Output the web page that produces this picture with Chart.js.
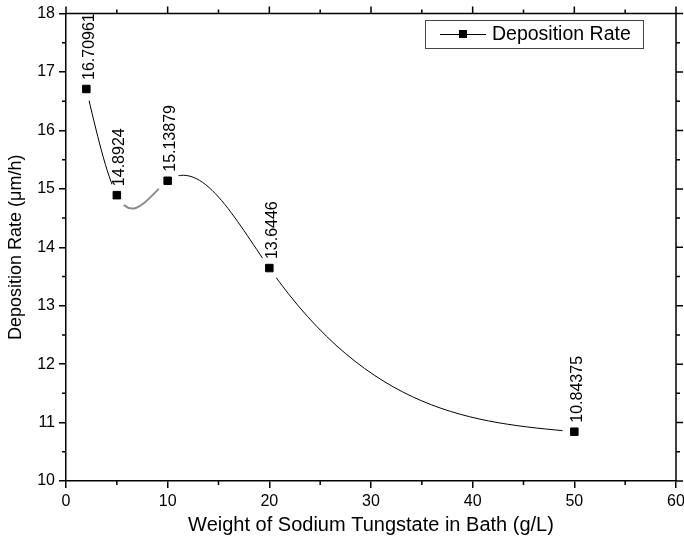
<!DOCTYPE html>
<html lang="en">
  <head>
    <meta charset="UTF-8"/>
    <title>Deposition Rate</title>
    <script src="https://cdn.jsdelivr.net/npm/chart.js@4.4.1/dist/chart.umd.min.js"></script>
    <style>
      html, body { margin:0; padding:0; background:#fff; }
      #wrap { width:684px; height:540px; }
    </style>
  </head>
  <body>
    <div id="wrap"><canvas id="Chart" width="684" height="540"></canvas></div>
    <script>
      // data
      var weights = [2, 5, 10, 20, 50];
      var rates = [16.70961, 14.8924, 15.13879, 13.6446, 10.84375];
      var rateLabels = ['16.70961', '14.8924', '15.13879', '13.6446', '10.84375'];
      var xTicks = [0, 10, 20, 30, 40, 50, 60];
      var yTicks = [10, 11, 12, 13, 14, 15, 16, 17, 18];

      var FONT = 'Arial, "Liberation Sans", sans-serif';

      // slopes of a natural cubic spline through the points (Origin's spline look)
      function splineSlopes(xv, yv){
        var n = xv.length, h = [], M = new Array(n).fill(0);
        for (var i = 0; i < n - 1; i++) h.push(xv[i+1] - xv[i]);
        var a = [], b = [], c = [], d = [];
        for (var i = 1; i < n - 1; i++) {
          a.push(h[i-1]); b.push(2 * (h[i-1] + h[i])); c.push(h[i]);
          d.push(6 * ((yv[i+1] - yv[i]) / h[i] - (yv[i] - yv[i-1]) / h[i-1]));
        }
        var m = b.length;
        for (var i = 1; i < m; i++) {
          var k = a[i] / b[i-1];
          b[i] -= k * c[i-1]; d[i] -= k * d[i-1];
        }
        for (var i = m - 1; i >= 0; i--) {
          M[i+1] = (d[i] - (i < m - 1 ? c[i] * M[i+2] : 0)) / b[i];
        }
        var s = [];
        for (var i = 0; i < n - 1; i++) s.push((yv[i+1] - yv[i]) / h[i] - h[i] * (2 * M[i] + M[i+1]) / 6);
        var L = n - 1;
        s.push((yv[L] - yv[L-1]) / h[L-1] + h[L-1] * (M[L-1] + 2 * M[L]) / 6);
        return s;
      }
      var slopes = splineSlopes(weights, rates);

      var curve = {
        id: 'curve',
        beforeDatasetDraw: function(chart, args){
          if (args.index != 0) return;
          var meta = args.meta;
          var xs = chart.scales.x, ys = chart.scales.y;
          meta.dataset.updateControlPoints(chart.chartArea);
          var pts = meta.data;
          for (var i = 0; i < pts.length; i++) {
            if (i > 0) {
              var hp = (weights[i] - weights[i-1]) / 3;
              pts[i].cp1x = xs.getPixelForValue(weights[i] - hp);
              pts[i].cp1y = ys.getPixelForValue(rates[i] - slopes[i] * hp);
            }
            if (i < pts.length - 1) {
              var hn = (weights[i+1] - weights[i]) / 3;
              pts[i].cp2x = xs.getPixelForValue(weights[i] + hn);
              pts[i].cp2y = ys.getPixelForValue(rates[i] + slopes[i] * hn);
            }
          }
          // leave a small gap round each marker, like the reference
          var ctx = chart.ctx;
          ctx.save();
          ctx.beginPath();
          ctx.rect(0, 0, chart.width, chart.height);
          for (var j = 0; j < pts.length; j++) {
            ctx.moveTo(pts[j].x + 12, pts[j].y);
            ctx.arc(pts[j].x, pts[j].y, 12, 0, Math.PI * 2);
          }
          ctx.clip('evenodd');
        },
        afterDatasetDraw: function(chart, args){
          if (args.index == 0) chart.ctx.restore();
        }
      };

      // frame, minor ticks, mirrored top/right ticks, point labels and legend
      var extras = {
        id: 'extras',
        afterDraw: function(chart){
          var ctx = chart.ctx;
          var a = chart.chartArea;
          var xs = chart.scales.x, ys = chart.scales.y;
          ctx.save();
          ctx.strokeStyle = '#000';
          ctx.lineWidth = 1.5;
          ctx.beginPath();
          ctx.moveTo(a.left, a.top); ctx.lineTo(a.right, a.top);
          ctx.moveTo(a.right, a.top); ctx.lineTo(a.right, a.bottom);
          for (var v = 0; v <= 60; v += 5) {
            var px = xs.getPixelForValue(v);
            var len = (v % 10 == 0) ? 7 : 4;
            if (v % 10 != 0) { ctx.moveTo(px, a.bottom); ctx.lineTo(px, a.bottom + len); }
            ctx.moveTo(px, a.top); ctx.lineTo(px, a.top - len);
          }
          for (var w = 10; w <= 18; w += 0.5) {
            var py = ys.getPixelForValue(w);
            var l2 = (w % 1 == 0) ? 7 : 4;
            if (w % 1 != 0) { ctx.moveTo(a.left, py); ctx.lineTo(a.left - l2, py); }
            ctx.moveTo(a.right, py); ctx.lineTo(a.right + l2, py);
          }
          ctx.stroke();

          // rotated value labels
          ctx.fillStyle = '#000';
          ctx.font = '16px ' + FONT;
          ctx.textAlign = 'left';
          ctx.textBaseline = 'middle';
          for (var i = 0; i < weights.length; i++) {
            var x = xs.getPixelForValue(weights[i]);
            var y = ys.getPixelForValue(rates[i]);
            ctx.save();
            ctx.translate(x + 3, y - 9);
            ctx.rotate(-Math.PI / 2);
            ctx.fillText(rateLabels[i], 0, 0);
            ctx.restore();
          }

          // legend box
          ctx.lineWidth = 1;
          ctx.strokeStyle = '#444';
          ctx.strokeRect(425.5, 20.5, 218, 28);
          ctx.strokeStyle = '#000';
          ctx.beginPath();
          ctx.moveTo(440, 34.5); ctx.lineTo(486, 34.5);
          ctx.stroke();
          ctx.fillRect(459, 30, 8, 8);
          ctx.font = '19.5px ' + FONT;
          ctx.fillText(chart.data.datasets[0].label, 492, 35);
          ctx.restore();
        }
      };

      var pairs = weights.map(function(w, i){ return {x: w, y: rates[i]}; });

      var ctx = document.getElementById('Chart').getContext('2d');
      var chart = new Chart(ctx, {
        type: 'line',
        data: {
          datasets: [{
            label: 'Deposition Rate',
            data: pairs,
            borderColor: '#000',
            borderWidth: 1,
            pointRadius: 0,
            tension: 0.4,
            fill: false,
            segment: {
              // the 5 to 10 g/L piece is grey and thicker in the reference
              borderColor: function(c){ return c.p0DataIndex == 1 ? '#8a8a8a' : undefined; },
              borderWidth: function(c){ return c.p0DataIndex == 1 ? 2 : undefined; }
            }
          }, {
            label: 'markers',
            data: pairs,
            showLine: false,
            pointStyle: 'rect',
            pointRadius: 5.3,
            pointBorderWidth: 1,
            pointBackgroundColor: '#000',
            pointBorderColor: '#000'
          }]
        },
        options: {
          responsive: false,
          animation: false,
          layout: { padding: { top: 13, right: 0, left: 0, bottom: 0 } },
          plugins: { legend: { display: false }, tooltip: { enabled: false } },
          scales: {
            x: {
              type: 'linear',
              min: 0, max: 60,
              afterBuildTicks: function(s){ s.ticks = xTicks.map(function(v){ return {value: v}; }); },
              afterFit: function(s){ s.height = 59; s.paddingRight = 8; s.paddingLeft = 0; },
              ticks: { color: '#000', font: { family: FONT, size: 16 }, padding: 4, maxRotation: 0 },
              grid: { drawOnChartArea: false, drawTicks: true, tickLength: 7, color: '#000', lineWidth: 1.5 },
              border: { display: true, color: '#000', width: 1.5 },
              title: { display: true, text: 'Weight of Sodium Tungstate in Bath (g/L)', color: '#000',
                       font: { family: FONT, size: 20 }, padding: { top: 0, bottom: 3 } }
            },
            y: {
              type: 'linear',
              min: 10, max: 18,
              afterBuildTicks: function(s){ s.ticks = yTicks.map(function(v){ return {value: v}; }); },
              afterFit: function(s){ s.width = 66; },
              ticks: { color: '#000', font: { family: FONT, size: 16 }, padding: 4 },
              grid: { drawOnChartArea: false, drawTicks: true, tickLength: 7, color: '#000', lineWidth: 1.5 },
              border: { display: true, color: '#000', width: 1.5 },
              title: { display: true, text: 'Deposition Rate (\u03bcm/h)', color: '#000',
                       font: { family: FONT, size: 18 }, padding: { top: 5, bottom: 0 } }
            }
          }
        },
        plugins: [curve, extras]
      });
    </script>
  </body>
</html>
